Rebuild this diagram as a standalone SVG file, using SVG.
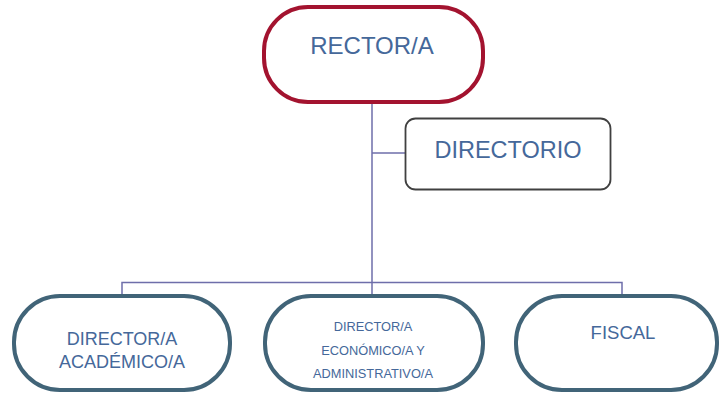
<svg xmlns="http://www.w3.org/2000/svg" width="720" height="394" viewBox="0 0 720 394">
<style>
.conn{fill:none;stroke:#6E6EAA;stroke-width:1.5}
.pill{fill:#fff;stroke:#416478;stroke-width:4}
.t{font-family:"Liberation Sans",Arial,sans-serif;fill:#45689A;text-anchor:middle}
</style>
<rect width="720" height="394" fill="#fff"/>
<g id="connectors">
<line class="conn" x1="372" y1="102" x2="372" y2="283"/>
<line class="conn" x1="372" y1="153" x2="406" y2="153"/>
<polyline class="conn" points="122,296 122,282.5 622,282.5 622,296"/>
<line class="conn" x1="372" y1="282" x2="372" y2="296"/>
</g>
<g id="rector">
<rect x="264" y="7" width="219" height="95" rx="44" fill="#fff" stroke="#A3132F" stroke-width="4"/>
<text class="t" x="372" y="54" font-size="24">RECTOR/A</text>
</g>
<g id="directorio">
<rect x="405.5" y="118.5" width="205" height="71" rx="10" fill="#fff" stroke="#404040" stroke-width="1.8"/>
<text class="t" x="508" y="158" font-size="23.5">DIRECTORIO</text>
</g>
<g id="academico">
<rect class="pill" x="14" y="296" width="216" height="94" rx="46"/>
<text class="t" x="122" y="345" font-size="18">DIRECTOR/A</text>
<text class="t" x="122" y="368" font-size="18">ACADÉMICO/A</text>
</g>
<g id="economico">
<rect class="pill" x="265" y="296" width="218" height="94" rx="46"/>
<text class="t" x="373" y="331" font-size="12.8">DIRECTOR/A</text>
<text class="t" x="373" y="355" font-size="12.8">ECONÓMICO/A Y</text>
<text class="t" x="373" y="378" font-size="12.8">ADMINISTRATIVO/A</text>
</g>
<g id="fiscal">
<rect class="pill" x="516" y="296" width="201" height="94" rx="46"/>
<text class="t" x="623" y="339" font-size="18.5">FISCAL</text>
</g>
</svg>
